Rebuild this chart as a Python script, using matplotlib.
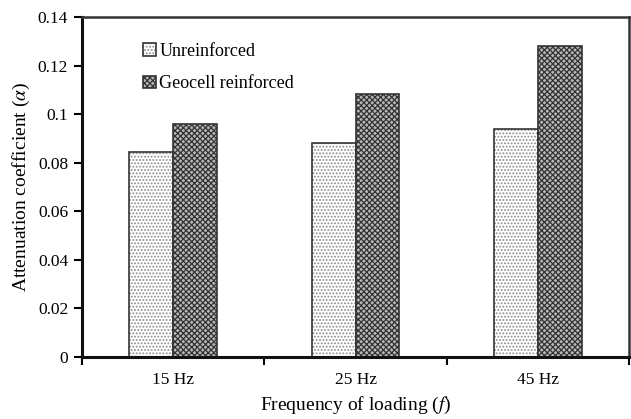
import matplotlib.pyplot as plt
import numpy as np

plt.rcParams['font.family'] = ['Liberation Serif', 'DejaVu Serif']
plt.rcParams['mathtext.fontset'] = 'stix'
plt.rcParams['hatch.linewidth'] = 0.9

freqs = ['15 Hz', '25 Hz', '45 Hz']
unreinforced = [0.0844, 0.0881, 0.0940]
geocell = [0.0958, 0.1083, 0.1280]

x = np.arange(len(freqs))
w = 0.24

fig = plt.figure(figsize=(6.31, 4.19), dpi=100)
ax = fig.add_axes([0.130, 0.148, 0.867, 0.811])

b1 = ax.bar(x - w/2, unreinforced, w, color='white', hatch='.....',
            edgecolor='#333333', linewidth=1.2, label='Unreinforced')
b2 = ax.bar(x + w/2, geocell, w, color='#b8b8b8', hatch='xxxxxx',
            edgecolor='#333333', linewidth=1.2, label='Geocell reinforced')
for p in b2:
    p._hatch_color = (0.2, 0.2, 0.2, 1.0)
for p in b1:
    p._hatch_color = (0.55, 0.55, 0.55, 1.0)

ax.set_xlim(-0.5, 2.5)
ax.set_ylim(0, 0.14)
ax.set_yticks(np.arange(0, 0.141, 0.02))
ax.set_yticklabels(['0', '0.02', '0.04', '0.06', '0.08', '0.1', '0.12', '0.14'])
ax.set_xticks(x)
ax.set_xticklabels(freqs)
ax.set_xticks([-0.5, 0.5, 1.5, 2.5], minor=True)
ax.tick_params(axis='x', which='major', length=0, pad=11, labelsize=12.5)
ax.tick_params(axis='x', which='minor', length=6, width=1.5, direction='out')
ax.tick_params(axis='y', length=6, width=1.5, direction='out', labelsize=12.5, pad=4)

for s in ['left', 'bottom']:
    ax.spines[s].set_linewidth(2.2)
    ax.spines[s].set_color('#111111')
for s in ['top', 'right']:
    ax.spines[s].set_linewidth(1.8)
    ax.spines[s].set_color('#333333')

ax.set_ylabel(r'Attenuation coefficient ($\alpha$)', fontsize=14, labelpad=4)
ax.set_xlabel(r'Frequency of loading ($f$)', fontsize=14, labelpad=5)

ax.legend(loc='upper left', bbox_to_anchor=(0.082, 0.972), frameon=False,
          fontsize=13, handlelength=0.7, handleheight=0.7, handletextpad=0.2,
          labelspacing=0.85)

fig.savefig('out.png', dpi=100)
